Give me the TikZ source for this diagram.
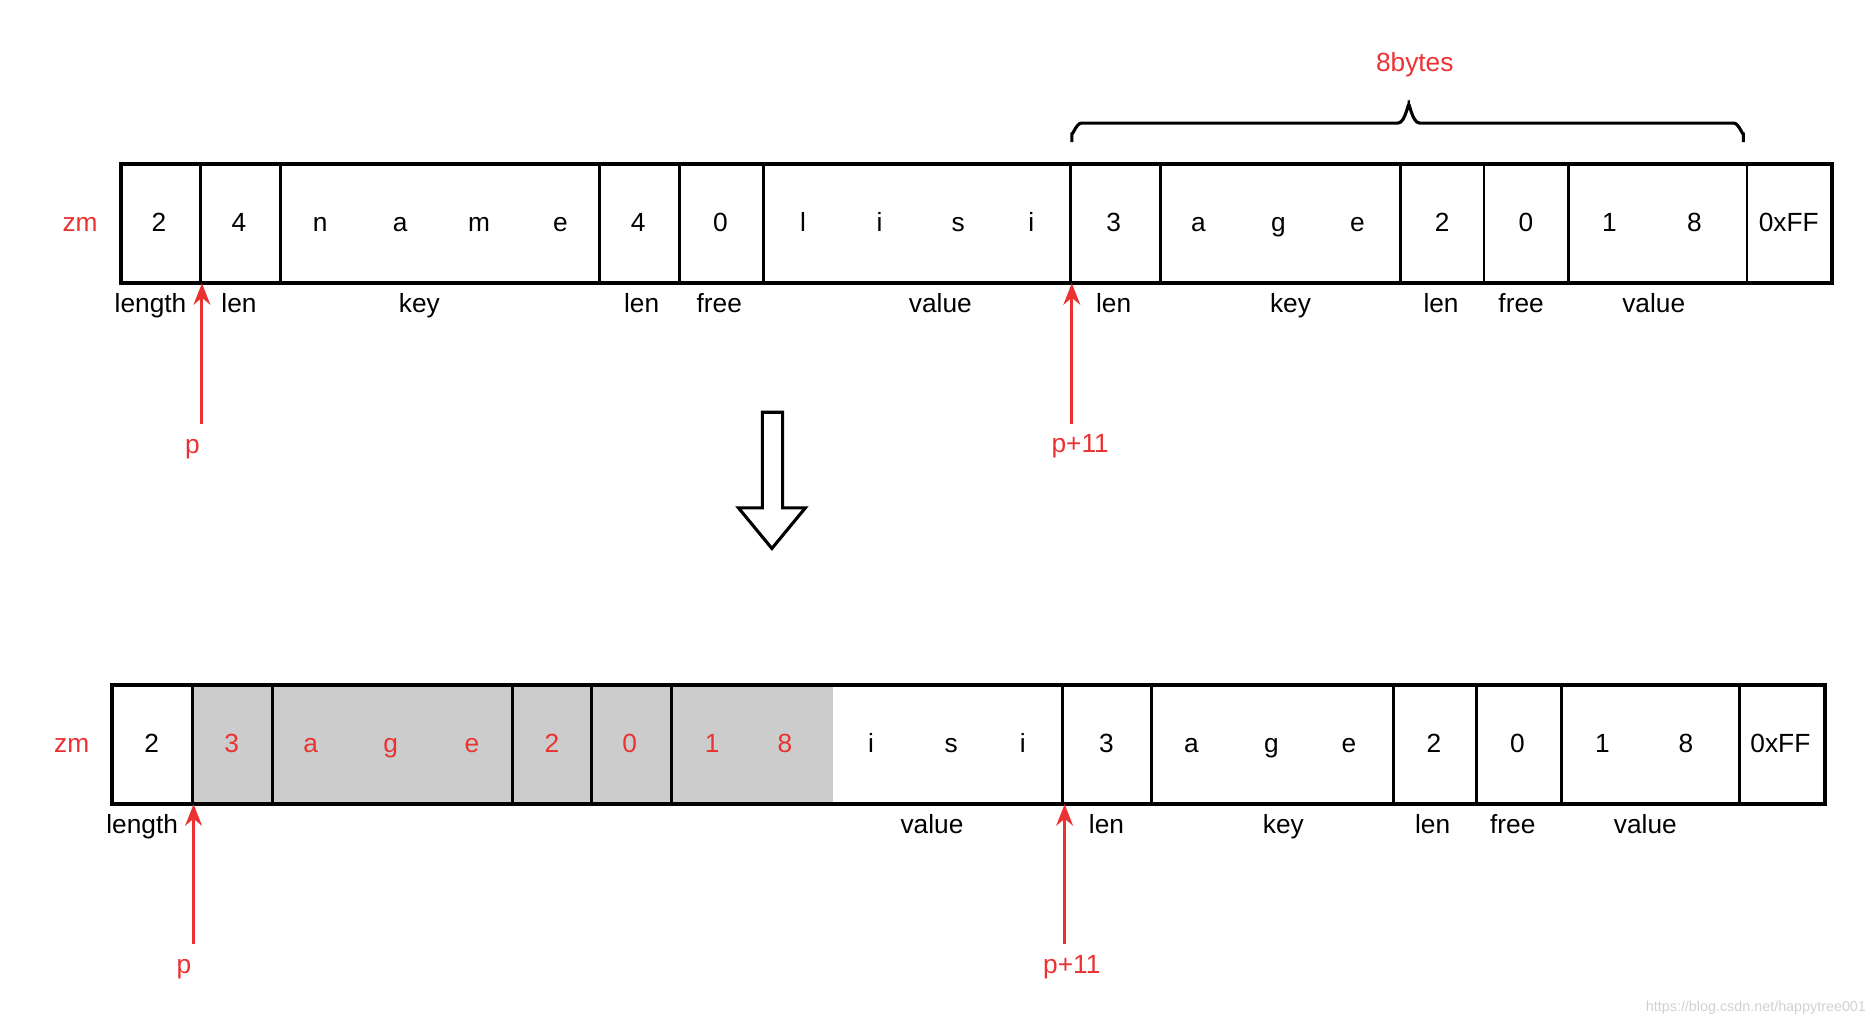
\documentclass[tikz,border=0pt]{standalone}
\usepackage{fontspec}
\setmainfont{Liberation Sans}
\usetikzlibrary{arrows.meta,decorations.pathreplacing}
\definecolor{myred}{RGB}{235,50,50}
\definecolor{graybox}{RGB}{204,204,204}
\begin{document}
\begin{tikzpicture}[x=0.5pt,y=-0.5pt,
  cell/.style={draw=black,line width=1.2pt},
  txt/.style={font=\fontsize{11}{13}\selectfont,inner sep=0pt,text height=8pt,text depth=2.5pt},
  rtxt/.style={txt,text=myred},
  parr/.style={draw=myred,line width=1.3pt,-{Stealth[length=9pt,width=7pt]}}]
\useasboundingbox (0,0) rectangle (1565,857);
% top row
\foreach \a/\b in {101/168,168/235,235/502,502/569,569/639,639/896,896/971,971/1172,1172/1242,1242/1313,1313/1462,1462/1533}
  \draw[cell] (\a,137) rectangle (\b,237);
\draw[line width=1.6pt] (101,137) rectangle (1533,237);
\foreach \x/\t [count=\i] in {133/2,200/4,268/n,335/a,401/m,469/e,534/4,603/0,672/l,736/i,802/s,863/i,932/3,1003/a,1070/g,1136/e,1207/2,1277/0,1347/1,1418/8,1497/0xFF}
  \node[txt] (t\i) at (\x,188) {\t};
\foreach \x/\t [count=\i] in {126/length,200/len,351/key,537/len,602/free,787/value,932/len,1080/key,1206/len,1273/free,1384/value}
  \node[txt] (tl\i) at (\x,256) {\t};
\node[rtxt] (zm1) at (67,188) {zm};
% bottom row
\fill[graybox] (161,573) rectangle (697,673);
\foreach \a/\b in {94/161,161/228,228/429,429/495,495/562,889/964,964/1166,1166/1236,1236/1307,1307/1456,1456/1527}
  \draw[cell] (\a,573) rectangle (\b,673);
\draw[cell] (562,573) -- (697,573) (562,673) -- (697,673);
\draw[line width=1.6pt] (94,573) rectangle (1527,673);
\foreach \x/\t [count=\i] in {127/2,729/i,796/s,856/i,926/3,997/a,1064/g,1129/e,1200/2,1270/0,1341/1,1411/8,1490/0xFF}
  \node[txt] (b\i) at (\x,624) {\t};
\foreach \x/\t [count=\i] in {194/3,260/a,327/g,395/e,462/2,527/0,596/1,657/8}
  \node[rtxt] (r\i) at (\x,624) {\t};
\foreach \x/\t [count=\i] in {119/length,780/value,926/len,1074/key,1199/len,1266/free,1377/value}
  \node[txt] (bl\i) at (\x,692) {\t};
\node[rtxt] (zm2) at (60,624) {zm};
% pointers
\coordinate (pa1) at (169,355); \coordinate (pa1e) at (169,237);
\coordinate (pb1) at (897,355); \coordinate (pb1e) at (897,237);
\coordinate (pa2) at (162,790); \coordinate (pa2e) at (162,673);
\coordinate (pb2) at (891,790); \coordinate (pb2e) at (891,673);
\draw[parr] (pa1) -- (pa1e);
\draw[parr] (pb1) -- (pb1e);
\draw[parr] (pa2) -- (pa2e);
\draw[parr] (pb2) -- (pb2e);
\node[rtxt] (p1) at (161,374) {p};
\node[rtxt] (p11a) at (904,373) {p+11};
\node[rtxt] (p2) at (154,809) {p};
\node[rtxt] (p11b) at (897,809) {p+11};
% brace
\draw[line width=1.3pt] (897,119) -- (897,111) to[out=-90,in=180] (905,103) -- (1170,103) to[out=0,in=90] (1179,89) to[out=90,in=180] (1188,103) -- (1451,103) to[out=0,in=-90] (1459,111) -- (1459,119);
\node[rtxt] (bytes) at (1184,54) {8bytes};
% hollow arrow
\draw[line width=1.3pt,fill=white] (638,345) -- (655,345) -- (655,425) -- (674,425) -- (646,459) -- (618,425) -- (638,425) -- cycle;
% watermark
\node[inner sep=0pt,anchor=east,text=black!18,font=\fontsize{6}{7}\selectfont] (wm) at (1562,843) {https://blog.csdn.net/happytree001};
\end{tikzpicture}
\end{document}
